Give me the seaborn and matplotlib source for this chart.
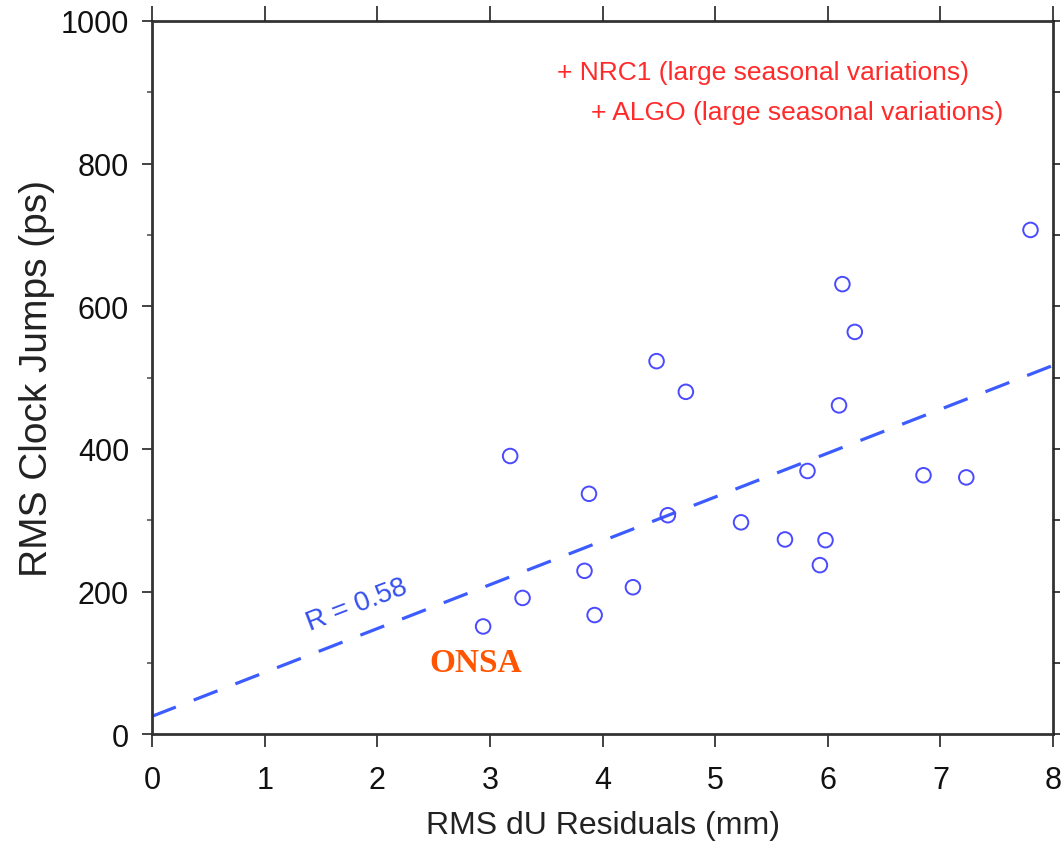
import matplotlib
matplotlib.use("Agg")
import matplotlib.pyplot as plt
import seaborn as sns
import numpy as np
import pandas as pd
from matplotlib.ticker import MultipleLocator

# ---- data ----
rms_du = [2.94, 3.18, 3.29, 3.84, 3.88, 3.93, 4.27, 4.48, 4.58, 4.74, 5.23,
          5.62, 5.82, 5.93, 5.98, 6.10, 6.13, 6.24, 6.85, 7.23, 7.80]
rms_clock = [151, 390, 191, 229, 337, 167, 206, 523, 307, 480, 297,
             273, 369, 237, 272, 461, 631, 564, 363, 360, 707]
fit_x = [0, 8]
fit_y = [25, 517]
r_label = "R = 0.58"
x_ticks = [0, 1, 2, 3, 4, 5, 6, 7, 8]
y_ticks = [0, 200, 400, 600, 800, 1000]
notes = ["+ NRC1 (large seasonal variations)", "+ ALGO (large seasonal variations)"]

sns.set_style("white")
plt.rcParams['font.family'] = ['Liberation Sans', 'DejaVu Sans']

fig = plt.figure(figsize=(10.63, 8.45), dpi=100)
ax = fig.add_axes([0.143, 0.130, 0.8476, 0.844])

df = pd.DataFrame({"x": rms_du, "y": rms_clock})
fit = pd.DataFrame({"x": fit_x, "y": fit_y})

sns.lineplot(data=fit, x="x", y="y", ax=ax, color="#3d5cff", lw=2.3,
             linestyle=(0, (8, 6)), zorder=2)
sns.scatterplot(data=df, x="x", y="y", ax=ax, marker="o", s=110,
                facecolors="none", edgecolor="#4a4aff", linewidth=1.4, zorder=3)

ax.set_xlim(0, 8)
ax.set_ylim(0, 1000)

# top ticks
axt = ax.twiny()
axt.set_xlim(0, 8)
axt.set_xticks(x_ticks)
axt.tick_params(axis="x", direction="out", length=11, width=1.2, color="#222222",
                top=True, labeltop=False, bottom=False, labelbottom=False)
# right ticks
axr = ax.twinx()
axr.set_ylim(0, 1000)
axr.yaxis.set_major_locator(MultipleLocator(100))
axr.tick_params(axis="y", direction="out", length=5, width=1.2, color="#222222",
                right=True, labelright=False, left=False, labelleft=False)
for a in (axt, axr):
    for s in a.spines.values():
        s.set_visible(False)
    a.grid(False)

ax.set_xticks(x_ticks)
ax.set_yticks(y_ticks)
ax.yaxis.set_minor_locator(MultipleLocator(100))
ax.tick_params(axis="x", which="major", direction="out", length=9, width=1.2,
               color="#222222", labelsize=22, pad=13, bottom=True, top=False)
ax.tick_params(axis="y", which="major", direction="out", length=7.5, width=1.2,
               color="#222222", labelsize=22, pad=9, left=True, right=False)
ax.tick_params(axis="y", which="minor", direction="out", length=3.5, width=1.2,
               color="#555555", left=True, right=False)
for lbl in ax.get_xticklabels() + ax.get_yticklabels():
    lbl.set_color("#111111")

ax.set_xlabel("RMS dU Residuals (mm)", fontsize=23, color="#222222", labelpad=11)
ax.set_ylabel("RMS Clock Jumps (ps)", fontsize=28, color="#222222", labelpad=4)

for s in ax.spines.values():
    s.set_linewidth(2.0)
    s.set_color("#333333")

ax.text(1.82, 182, r_label, rotation=21, color="#3550ee", fontsize=20,
        ha="center", va="center")
ax.text(2.87, 100, "ONSA", color="#ff5500", fontsize=24, fontweight="bold",
        ha="center", va="center", family=['Liberation Serif', 'DejaVu Serif'])
ax.text(3.6, 928, notes[0], color="#ff2a2a", fontsize=19, ha="left", va="center")
ax.text(3.9, 873, notes[1], color="#ff2a2a", fontsize=19, ha="left", va="center")

fig.savefig("out.png", dpi=100)
